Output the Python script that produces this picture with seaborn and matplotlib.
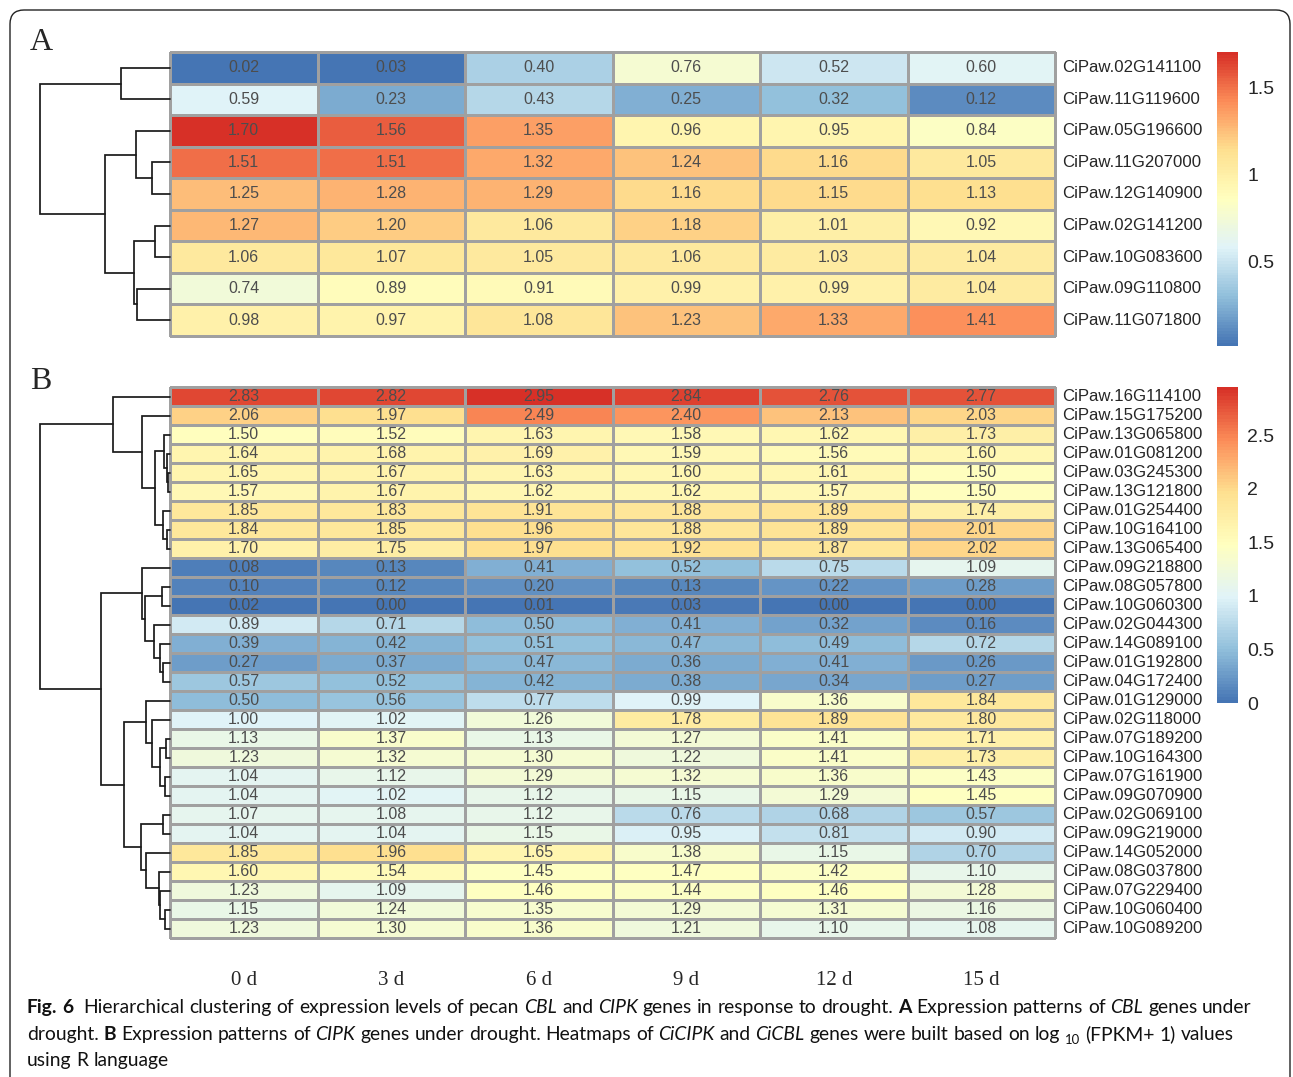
import matplotlib
matplotlib.use("Agg")
import matplotlib.pyplot as plt
from matplotlib.colors import LinearSegmentedColormap
from matplotlib.patches import FancyBboxPatch
from matplotlib.transforms import IdentityTransform
import pandas as pd
import seaborn as sns

W, H = 1293, 1077

days = ["0 d", "3 d", "6 d", "9 d", "12 d", "15 d"]

# Panel A: CBL genes (row order as in the clustered heatmap)
cbl_genes = ["CiPaw.02G141100", "CiPaw.11G119600", "CiPaw.05G196600", "CiPaw.11G207000",
             "CiPaw.12G140900", "CiPaw.02G141200", "CiPaw.10G083600", "CiPaw.09G110800",
             "CiPaw.11G071800"]
cbl_values = [
    [0.02, 0.03, 0.40, 0.76, 0.52, 0.60],
    [0.59, 0.23, 0.43, 0.25, 0.32, 0.12],
    [1.70, 1.56, 1.35, 0.96, 0.95, 0.84],
    [1.51, 1.51, 1.32, 1.24, 1.16, 1.05],
    [1.25, 1.28, 1.29, 1.16, 1.15, 1.13],
    [1.27, 1.20, 1.06, 1.18, 1.01, 0.92],
    [1.06, 1.07, 1.05, 1.06, 1.03, 1.04],
    [0.74, 0.89, 0.91, 0.99, 0.99, 1.04],
    [0.98, 0.97, 1.08, 1.23, 1.33, 1.41],
]
# row dendrogram merges: (left id, right id, height); new clusters get ids n, n+1, ...
cbl_links = [(3, 4, 18.3), (2, 9, 34.3), (5, 6, 15.0), (7, 8, 33.0), (11, 12, 35.7),
             (10, 13, 65.0), (0, 1, 49.0), (15, 14, 130.0)]

# Panel B: CIPK genes
cipk_genes = ["CiPaw.16G114100", "CiPaw.15G175200", "CiPaw.13G065800", "CiPaw.01G081200",
              "CiPaw.03G245300", "CiPaw.13G121800", "CiPaw.01G254400", "CiPaw.10G164100",
              "CiPaw.13G065400", "CiPaw.09G218800", "CiPaw.08G057800", "CiPaw.10G060300",
              "CiPaw.02G044300", "CiPaw.14G089100", "CiPaw.01G192800", "CiPaw.04G172400",
              "CiPaw.01G129000", "CiPaw.02G118000", "CiPaw.07G189200", "CiPaw.10G164300",
              "CiPaw.07G161900", "CiPaw.09G070900", "CiPaw.02G069100", "CiPaw.09G219000",
              "CiPaw.14G052000", "CiPaw.08G037800", "CiPaw.07G229400", "CiPaw.10G060400",
              "CiPaw.10G089200"]
cipk_values = [
    [2.83, 2.82, 2.95, 2.84, 2.76, 2.77],
    [2.06, 1.97, 2.49, 2.40, 2.13, 2.03],
    [1.50, 1.52, 1.63, 1.58, 1.62, 1.73],
    [1.64, 1.68, 1.69, 1.59, 1.56, 1.60],
    [1.65, 1.67, 1.63, 1.60, 1.61, 1.50],
    [1.57, 1.67, 1.62, 1.62, 1.57, 1.50],
    [1.85, 1.83, 1.91, 1.88, 1.89, 1.74],
    [1.84, 1.85, 1.96, 1.88, 1.89, 2.01],
    [1.70, 1.75, 1.97, 1.92, 1.87, 2.02],
    [0.08, 0.13, 0.41, 0.52, 0.75, 1.09],
    [0.10, 0.12, 0.20, 0.13, 0.22, 0.28],
    [0.02, 0.00, 0.01, 0.03, 0.00, 0.00],
    [0.89, 0.71, 0.50, 0.41, 0.32, 0.16],
    [0.39, 0.42, 0.51, 0.47, 0.49, 0.72],
    [0.27, 0.37, 0.47, 0.36, 0.41, 0.26],
    [0.57, 0.52, 0.42, 0.38, 0.34, 0.27],
    [0.50, 0.56, 0.77, 0.99, 1.36, 1.84],
    [1.00, 1.02, 1.26, 1.78, 1.89, 1.80],
    [1.13, 1.37, 1.13, 1.27, 1.41, 1.71],
    [1.23, 1.32, 1.30, 1.22, 1.41, 1.73],
    [1.04, 1.12, 1.29, 1.32, 1.36, 1.43],
    [1.04, 1.02, 1.12, 1.15, 1.29, 1.45],
    [1.07, 1.08, 1.12, 0.76, 0.68, 0.57],
    [1.04, 1.04, 1.15, 0.95, 0.81, 0.90],
    [1.85, 1.96, 1.65, 1.38, 1.15, 0.70],
    [1.60, 1.54, 1.45, 1.47, 1.42, 1.10],
    [1.23, 1.09, 1.46, 1.44, 1.46, 1.28],
    [1.15, 1.24, 1.35, 1.29, 1.31, 1.16],
    [1.23, 1.30, 1.36, 1.21, 1.10, 1.08],
]
cipk_links = [(4, 5, 2.0), (3, 29, 3.3), (2, 30, 6.0), (7, 8, 3.3), (6, 32, 6.7),
              (31, 33, 15.0), (1, 34, 28.3), (0, 35, 57.3), (10, 11, 8.3), (14, 15, 6.7),
              (13, 38, 10.0), (12, 39, 15.7), (37, 40, 25.0), (9, 41, 28.3), (18, 19, 4.0),
              (20, 21, 5.0), (43, 44, 10.0), (17, 45, 17.7), (16, 46, 24.3), (22, 23, 7.3),
              (27, 28, 5.0), (26, 49, 10.5), (25, 50, 11.5), (24, 51, 24.0), (48, 52, 29.0),
              (47, 53, 46.7), (42, 54, 69.3), (36, 55, 130.7)]

cbar_ticks_a = [0.5, 1, 1.5]
cbar_ticks_b = [0, 0.5, 1, 1.5, 2, 2.5]

# pheatmap default palette (reversed RdYlBu, 7 colours -> 100 steps)
palette = ["#4575B4", "#91BFDB", "#E0F3F8", "#FFFFBF", "#FEE090", "#FC8D59", "#D73027"]
cmap = LinearSegmentedColormap.from_list("pheat", palette, N=100)

caption_lines = [
    [("Fig. 6", "b"), (" Hierarchical clustering of expression levels of pecan", "n"), ("CBL", "i"),
     ("and", "n"), ("CIPK", "i"), ("genes in response to drought.", "n"), ("A", "b"),
     ("Expression patterns of", "n"), ("CBL", "i"), ("genes under", "n")],
    [("drought.", "n"), ("B", "b"), ("Expression patterns of", "n"), ("CIPK", "i"),
     ("genes under drought. Heatmaps of", "n"), ("CiCIPK", "i"), ("and", "n"), ("CiCBL", "i"),
     ("genes were built based on log", "n"), ("10", "s"), ("(FPKM+ 1) values", "n")],
    [("using R language", "n")],
]

sns.set_style("white")
plt.rcParams["font.family"] = ["Liberation Sans", "DejaVu Sans"]


def px_axes(fig, x0, y0, x1, y1):
    return fig.add_axes([x0 / W, 1 - y1 / H, (x1 - x0) / W, (y1 - y0) / H])


def draw_dendrogram(ax, links, n):
    pos = {i: (i + 0.5, 0.0) for i in range(n)}
    for k, (a, b, h) in enumerate(links):
        ya, ha = pos[a]
        yb, hb = pos[b]
        ax.plot([ha, h, h, hb], [ya, ya, yb, yb], color="#1a1a1a", lw=1.25,
                clip_on=False, solid_joinstyle="miter")
        pos[n + k] = ((ya + yb) / 2, h)
    ax.set_xlim(links[-1][2], 0)
    ax.set_ylim(n, 0)
    ax.axis("off")


def draw_heatmap(fig, box, cbar_box, genes, values, ticks, show_days):
    df = pd.DataFrame(values, index=genes, columns=days)
    ax = px_axes(fig, *box)
    cax = px_axes(fig, *cbar_box)
    sns.heatmap(df, ax=ax, cbar_ax=cax, cmap=cmap, vmin=df.values.min(), vmax=df.values.max(),
                annot=True, fmt=".2f", annot_kws={"color": "#4D4D4D", "fontsize": 11.5},
                linewidths=0.9, linecolor="#A0A0A0")
    ax.collections[0].set_clip_on(False)
    ax.yaxis.tick_right()
    ax.tick_params(axis="y", length=0, pad=5, labelsize=12.1)
    plt.setp(ax.get_yticklabels(), rotation=0, va="center", ha="left")
    ax.set_xlabel("")
    ax.set_ylabel("")
    if show_days:
        ax.tick_params(axis="x", length=0, pad=24)
        for lbl in ax.get_xticklabels():
            lbl.set_fontfamily("Liberation Serif")
            lbl.set_fontsize(15)
            lbl.set_rotation(0)
    else:
        ax.set_xticks([])
    cb = ax.collections[0].colorbar
    cb.outline.set_visible(False)
    cb.set_ticks(ticks)
    cb.set_ticklabels([f"{t:g}" for t in ticks])
    cax.tick_params(length=0, pad=6.5, labelsize=14)
    return ax


fig = plt.figure(figsize=(W / 100, H / 100), dpi=100)

# outer frame (open at the bottom)
frame = FancyBboxPatch((10, -40), 1280, H - 10 + 40, boxstyle="round,pad=0,rounding_size=14",
                       transform=IdentityTransform(), fill=False, ec="#222222", lw=1.0)
fig.add_artist(frame)

draw_heatmap(fig, (170, 52, 1055, 336), (1217, 52, 1238, 346), cbl_genes, cbl_values,
             cbar_ticks_a, False)
draw_dendrogram(px_axes(fig, 40, 52, 170, 336), cbl_links, len(cbl_genes))

draw_heatmap(fig, (170, 387, 1055, 938), (1217, 387, 1238, 703), cipk_genes, cipk_values,
             cbar_ticks_b, True)
draw_dendrogram(px_axes(fig, 40, 387, 170, 938), cipk_links, len(cipk_genes))

for letter, (x, y) in zip(["A", "B"], [(30, 50), (30, 389)]):
    fig.text(x, H - y, letter, transform=IdentityTransform(), fontsize=23,
             fontfamily="Liberation Serif", va="baseline", ha="left")

# caption, laid out word by word so bold / italic / subscript runs can be mixed
renderer = fig.canvas.get_renderer()
cap_font = "Lato"


def word_width(word, style, size):
    t = fig.text(0, 0, word, transform=IdentityTransform(), fontsize=size, fontfamily=cap_font,
                 fontweight="bold" if style == "b" else "normal",
                 fontstyle="italic" if style == "i" else "normal")
    w = t.get_window_extent(renderer).width
    t.remove()
    return w


def layout_line(runs, size, x0, y0, draw):
    space = word_width("n n", "n", size) - word_width("nn", "n", size)
    x = x0
    for text, style in runs:
        fs = size * 0.68 if style == "s" else size
        dy = -4 if style == "s" else 0
        for word in text.split(" "):
            if word:
                if draw:
                    fig.text(x, H - y0 + dy, word, transform=IdentityTransform(), fontsize=fs,
                             fontfamily=cap_font, va="baseline", ha="left", color="#111111",
                             fontweight="bold" if style == "b" else "normal",
                             fontstyle="italic" if style == "i" else "normal")
                x += word_width(word, style, fs)
            x += space
    return x - space - x0


base = 10.0
size = base * (1255 - 27) / layout_line(caption_lines[0], base, 0, 0, False)
for runs, y in zip(caption_lines, [1013, 1040, 1066]):
    layout_line(runs, size, 27, y, True)

fig.savefig("out.png", dpi=100)
